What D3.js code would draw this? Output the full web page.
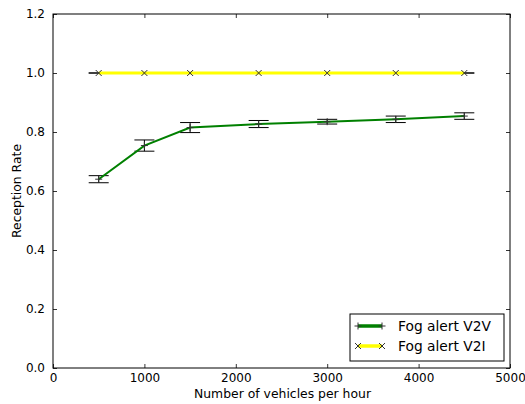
<!DOCTYPE html>
<html>
<head>
<meta charset="utf-8">
<script src="https://cdn.jsdelivr.net/npm/d3@7"></script>
<style>
  body { margin: 0; background: #fff; }
  text { font-family: "DejaVu Sans", sans-serif; fill: #000; }
</style>
</head>
<body>
<div class="chart"></div>
<script>
// data
var vehicles = [500, 1000, 1500, 2250, 3000, 3750, 4500];
var v2vRate = [0.640, 0.754, 0.815, 0.827, 0.835, 0.843, 0.854];
var v2vErr = [0.012, 0.019, 0.017, 0.012, 0.008, 0.011, 0.011];
var v2iRate = [1, 1, 1, 1, 1, 1, 1];
var v2iErr = [0, 0, 0, 0, 0, 0, 0];
var xTicks = [0, 1000, 2000, 3000, 4000, 5000];
var yTicks = [0.0, 0.2, 0.4, 0.6, 0.8, 1.0, 1.2];
var seriesNames = ['Fog alert V2V', 'Fog alert V2I'];

var W = 525, H = 404;
var pLeft = 53, pRight = 510, pTop = 14, pBottom = 368;

var svg = d3.select('.chart').append('svg')
    .attr('width', W).attr('height', H);

var x = d3.scaleLinear().domain([0, 5000]).range([pLeft, pRight]);
var y = d3.scaleLinear().domain([0, 1.2]).range([pBottom, pTop]);

// axes, matplotlib classic style: ticks inward on all four sides
function tickStyle(g) {
  g.select('.domain').remove();
  g.selectAll('.tick line').attr('stroke', '#000').attr('stroke-width', 0.8);
}
svg.append('g').attr('transform', 'translate(0,' + pBottom + ')')
  .call(d3.axisBottom(x).tickValues(xTicks).tickSize(-4).tickPadding(4).tickFormat(d3.format('d')))
  .call(tickStyle)
  .selectAll('text').attr('font-size', 12).attr('font-family', 'DejaVu Sans').attr('dy', '0.84em');
svg.append('g').attr('transform', 'translate(0,' + pTop + ')')
  .call(d3.axisTop(x).tickValues(xTicks).tickSize(-4).tickFormat(''))
  .call(tickStyle);
svg.append('g').attr('transform', 'translate(' + pLeft + ',0)')
  .call(d3.axisLeft(y).tickValues(yTicks).tickSize(-4).tickPadding(8).tickFormat(d3.format('.1f')))
  .call(tickStyle)
  .selectAll('text').attr('font-size', 12).attr('font-family', 'DejaVu Sans');
svg.append('g').attr('transform', 'translate(' + pRight + ',0)')
  .call(d3.axisRight(y).tickValues(yTicks).tickSize(-4).tickFormat(''))
  .call(tickStyle);

svg.append('rect')
  .attr('x', pLeft).attr('y', pTop)
  .attr('width', pRight - pLeft).attr('height', pBottom - pTop)
  .attr('fill', 'none').attr('stroke', '#000').attr('stroke-width', 1);

// axis labels
svg.append('text')
  .attr('x', (pLeft + pRight) / 2 + 1).attr('y', 398)
  .attr('text-anchor', 'middle').attr('font-size', 12.4)
  .text('Number of vehicles per hour');
svg.append('text')
  .attr('transform', 'translate(21,' + (pTop + pBottom) / 2 + ') rotate(-90)')
  .attr('text-anchor', 'middle').attr('font-size', 12.4)
  .text('Reception Rate');

var line = d3.line().x(function (d) { return x(d[0]); }).y(function (d) { return y(d[1]); });

function drawSeries(rates, errs, color, width, marker) {
  var pts = vehicles.map(function (v, i) { return [v, rates[i], errs[i]]; });
  var g = svg.append('g');
  // error bars first, the line sits on top of them
  var eb = g.selectAll('.eb').data(pts).enter().append('g');
  eb.append('line')
    .attr('x1', function (d) { return x(d[0]); }).attr('x2', function (d) { return x(d[0]); })
    .attr('y1', function (d) { return y(d[1] - d[2]); }).attr('y2', function (d) { return y(d[1] + d[2]); })
    .attr('stroke', '#000').attr('stroke-width', 1);
  [-1, 1].forEach(function (s) {
    eb.append('line')
      .attr('x1', function (d) { return x(d[0]) - 10; }).attr('x2', function (d) { return x(d[0]) + 10; })
      .attr('y1', function (d) { return y(d[1] + s * d[2]); }).attr('y2', function (d) { return y(d[1] + s * d[2]); })
      .attr('stroke', '#000').attr('stroke-width', 1);
  });
  g.append('path').datum(pts)
    .attr('d', line).attr('fill', 'none')
    .attr('stroke', color).attr('stroke-width', width);
  // markers
  g.selectAll('.mk').data(pts).enter().append('path')
    .attr('transform', function (d) { return 'translate(' + x(d[0]) + ',' + y(d[1]) + ')'; })
    .attr('d', marker).attr('stroke', '#333').attr('stroke-width', 1).attr('fill', 'none');
}

var plusPath = 'M-3.5,0H3.5M0,-3.5V3.5';
var crossPath = 'M-3,-3L3,3M-3,3L3,-3';

drawSeries(v2iRate, v2iErr, '#ffff00', 3, crossPath);
drawSeries(v2vRate, v2vErr, '#008000', 2, plusPath);

// legend
var lg = svg.append('g');
lg.append('rect')
  .attr('x', 350).attr('y', 314).attr('width', 154).attr('height', 47)
  .attr('fill', '#fff').attr('stroke', '#000').attr('stroke-width', 1);
var entries = [
  { name: seriesNames[0], color: '#008000', width: 3.5, marker: plusPath },
  { name: seriesNames[1], color: '#ffff00', width: 3.5, marker: crossPath }
];
entries.forEach(function (e, i) {
  var yy = 326 + i * 20;
  lg.append('line').attr('x1', 358).attr('x2', 382).attr('y1', yy).attr('y2', yy)
    .attr('stroke', e.color).attr('stroke-width', e.width);
  [358, 382].forEach(function (xx) {
    lg.append('path').attr('transform', 'translate(' + xx + ',' + yy + ')')
      .attr('d', e.marker).attr('stroke', '#333').attr('stroke-width', 1).attr('fill', 'none');
  });
  lg.append('text').attr('x', 398).attr('y', yy + 5)
    .attr('font-size', 13.8).text(e.name);
});
</script>
</body>
</html>
